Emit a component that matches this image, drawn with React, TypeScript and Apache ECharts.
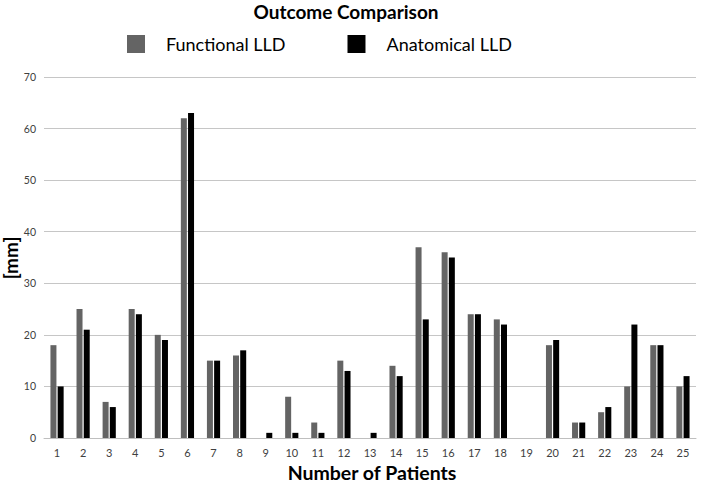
import React, { useEffect, useRef } from "react";
import * as echarts from "echarts";

const categories = [
  "1", "2", "3", "4", "5", "6", "7", "8", "9", "10", "11", "12", "13",
  "14", "15", "16", "17", "18", "19", "20", "21", "22", "23", "24", "25",
];
const functionalLLD = [18, 25, 7, 25, 20, 62, 15, 16, 0, 8, 3, 15, 0, 14, 37, 36, 24, 23, 0, 18, 3, 5, 10, 18, 10];
const anatomicalLLD = [10, 21, 6, 24, 19, 63, 15, 17, 1, 1, 1, 13, 1, 12, 23, 35, 24, 22, 0, 19, 3, 6, 22, 18, 12];
const seriesNames = ["Functional LLD", "Anatomical LLD"];
const chartTitle = "Outcome Comparison";
const xTitle = "Number of Patients";
const yTitle = "[mm]";

const FONT = "Lato, 'Open Sans', sans-serif";

export default function App() {
  const ref = useRef<HTMLDivElement>(null);
  useEffect(() => {
    if (!ref.current) return;
    const chart = echarts.init(ref.current, null, { renderer: "svg" });
    chart.setOption({
      animation: false,
      backgroundColor: "#ffffff",
      title: {
        text: chartTitle,
        left: 346,
        textAlign: "center",
        top: 1,
        padding: 0,
        textStyle: { fontFamily: FONT, fontSize: 19, fontWeight: "bold", color: "#000", lineHeight: 20 },
      },
      legend: {
        data: seriesNames,
        left: 127,
        top: 35,
        padding: 0,
        itemWidth: 18,
        itemHeight: 18,
        itemGap: 62,
        icon: "rect",
        textStyle: {
          fontFamily: FONT,
          fontSize: 18,
          color: "#000",
          padding: [0, 0, 0, 16],
        },
      },
      grid: { left: 44, right: 13, top: 77, bottom: 44, containLabel: false },
      xAxis: {
        type: "category",
        data: categories,
        axisLine: { show: true, lineStyle: { color: "#bfbfbf", width: 1 } },
        axisTick: { show: false },
        axisLabel: { fontFamily: FONT, fontSize: 11, color: "#404040", margin: 9 },
      },
      yAxis: {
        type: "value",
        min: 0,
        max: 70,
        interval: 10,
        axisLine: { show: false },
        axisTick: { show: false },
        splitLine: { lineStyle: { color: "#c6c6c6", width: 1 } },
        axisLabel: { fontFamily: FONT, fontSize: 10.5, color: "#404040", margin: 8 },
      },
      graphic: [
        {
          type: "text",
          x: 372,
          y: 472,
          style: {
            text: xTitle,
            fontFamily: FONT,
            fontSize: 19.5,
            fontWeight: "bold",
            fill: "#000",
            align: "center",
            verticalAlign: "middle",
          },
        },
        {
          type: "text",
          x: 10,
          y: 258,
          rotation: Math.PI / 2,
          style: {
            text: yTitle,
            fontFamily: FONT,
            fontSize: 19,
            fontWeight: "bold",
            fill: "#000",
            align: "center",
            verticalAlign: "middle",
          },
        },
      ],
      series: [
        {
          name: seriesNames[0],
          type: "bar",
          data: functionalLLD,
          barWidth: 6,
          barGap: "20%",
          itemStyle: { color: "#646464" },
        },
        {
          name: seriesNames[1],
          type: "bar",
          data: anatomicalLLD,
          barWidth: 6,
          itemStyle: { color: "#000000" },
        },
      ],
    });
    return () => chart.dispose();
  }, []);
  return (
    <div
      ref={ref}
      style={{ position: "fixed", left: 0, top: 0, width: 709, height: 482 }}
    />
  );
}
